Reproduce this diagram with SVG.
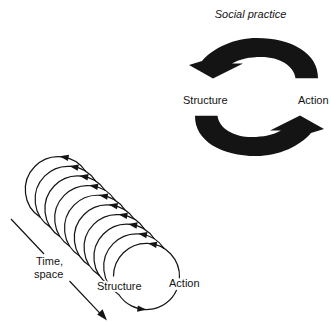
<svg xmlns="http://www.w3.org/2000/svg" xmlns:xlink="http://www.w3.org/1999/xlink" width="331" height="322" viewBox="0 0 331 322">
<style>
.lbl{font-family:"Liberation Sans",Arial,sans-serif;fill:#141414;font-size:11px}
.ital{font-style:italic}
.halo{stroke:#fff;stroke-width:3.5;paint-order:stroke;stroke-linejoin:round}
.coil{fill:none;stroke:#141414;stroke-width:1.2}
.thin{fill:none;stroke:#141414;stroke-width:1.2}
.solid{fill:#141414;stroke:none}
</style>
<defs>
<path id="ah" d="M4.5,0 L-4.5,-3.2 L-4.5,3.2 Z"/>
<path id="bigArrow" d="M318,78.3 C318.5,53 291,38 257,38 C234,38 213,48 202,61 L189,65 L213,78.5 L243,63.5 L232,63.5 C240,59 250,57 261,57 C280,57 294,66 295.5,78.3 Z"/>
</defs>
<rect width="331" height="322" fill="#fff"/>

<g id="connectors">
  <g id="arrow-action-to-structure"><use xlink:href="#bigArrow" href="#bigArrow" class="solid"/></g>
  <g id="arrow-structure-to-action"><use xlink:href="#bigArrow" href="#bigArrow" class="solid" transform="rotate(180 256.5 97)"/></g>
  <g id="time-space-arrow">
    <path class="thin" d="M11,219 L44,254 M69.5,281 L101,314.3"/>
    <path class="solid" d="M107,320.6 L97.2,314.6 L102.6,309.2 Z"/>
  </g>
</g>

<g id="social-practice">
  <text class="lbl ital" x="250.5" y="18" text-anchor="middle">Social practice</text>
</g>
<g id="structure-top">
  <text class="lbl" x="183" y="104" font-size="11.5">Structure</text>
</g>
<g id="action-top">
  <text class="lbl" x="298" y="104" font-size="11.5">Action</text>
</g>

<g id="coil">
  <path class="coil" d="M118.95,294.67 A33,33 0 1 1 164.25,248.68"/>
  <path class="coil" d="M109.15,285.02 A33,33 0 1 1 154.45,239.03"/>
  <path class="coil" d="M99.35,275.37 A33,33 0 1 1 144.65,229.38"/>
  <path class="coil" d="M89.55,265.72 A33,33 0 1 1 134.85,219.73"/>
  <path class="coil" d="M79.75,256.07 A33,33 0 1 1 125.05,210.08"/>
  <path class="coil" d="M69.95,246.42 A33,33 0 1 1 115.25,200.43"/>
  <path class="coil" d="M60.15,236.77 A33,33 0 1 1 105.45,190.78"/>
  <path class="coil" d="M50.35,227.12 A33,33 0 1 1 95.65,181.13"/>
  <path class="coil" d="M40.55,217.47 A33,33 0 1 1 85.85,171.48"/>
  <path class="coil" d="M118.8,294.5 A33,33 0 0 0 176.65,289.9"/>
  <path class="coil" d="M179.45,278.2 A33,33 0 1 0 113.5,276.5"/>
  <g class="solid">
    <use xlink:href="#ah" href="#ah" transform="translate(152.23,244) rotate(190)"/>
    <use xlink:href="#ah" href="#ah" transform="translate(142.43,234.35) rotate(190)"/>
    <use xlink:href="#ah" href="#ah" transform="translate(132.63,224.7) rotate(190)"/>
    <use xlink:href="#ah" href="#ah" transform="translate(122.83,215.05) rotate(190)"/>
    <use xlink:href="#ah" href="#ah" transform="translate(113.03,205.4) rotate(190)"/>
    <use xlink:href="#ah" href="#ah" transform="translate(103.23,195.75) rotate(190)"/>
    <use xlink:href="#ah" href="#ah" transform="translate(93.43,186.1) rotate(190)"/>
    <use xlink:href="#ah" href="#ah" transform="translate(83.63,176.45) rotate(190)"/>
    <use xlink:href="#ah" href="#ah" transform="translate(73.83,166.8) rotate(190)"/>
    <use xlink:href="#ah" href="#ah" transform="translate(64.03,157.15) rotate(190)"/>
    <use xlink:href="#ah" href="#ah" transform="translate(141.9,309.2) rotate(8)"/>
  </g>
</g>

<g id="structure-bottom">
  <text class="lbl halo" x="97" y="290">Structure</text>
</g>
<g id="action-bottom">
  <text class="lbl halo" x="169" y="287">Action</text>
</g>
<g id="time-space">
  <text class="lbl" x="36" y="265">Time,</text>
  <text class="lbl" x="34" y="278">space</text>
</g>
</svg>
